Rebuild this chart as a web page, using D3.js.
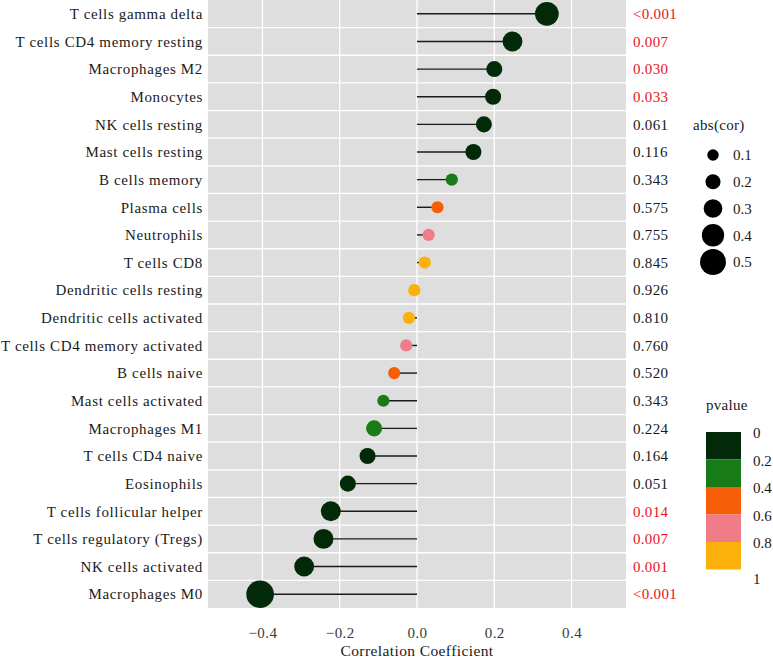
<!DOCTYPE html>
<html>
<head>
<meta charset="utf-8">
<script src="https://cdn.jsdelivr.net/npm/d3@7"></script>
<style>
  html, body { margin: 0; padding: 0; background: #fff; }
  svg { display: block; }
  svg text { font-family: "Liberation Serif", "Times New Roman", serif !important; }
</style>
</head>
<body>
<svg id="chart" width="773" height="660"></svg>
<script>
const cells = ["T cells gamma delta", "T cells CD4 memory resting", "Macrophages M2", "Monocytes",
  "NK cells resting", "Mast cells resting", "B cells memory", "Plasma cells", "Neutrophils", "T cells CD8",
  "Dendritic cells resting", "Dendritic cells activated", "T cells CD4 memory activated", "B cells naive",
  "Mast cells activated", "Macrophages M1", "T cells CD4 naive", "Eosinophils", "T cells follicular helper",
  "T cells regulatory (Tregs)", "NK cells activated", "Macrophages M0"];
const corValues = [0.336, 0.247, 0.200, 0.197, 0.173, 0.146, 0.090, 0.053, 0.030, 0.020,
  -0.007, -0.021, -0.028, -0.059, -0.087, -0.111, -0.128, -0.179, -0.223, -0.242, -0.292, -0.406];
const pValues = [0.0005, 0.007, 0.030, 0.033, 0.061, 0.116, 0.343, 0.575, 0.755, 0.845,
  0.926, 0.810, 0.760, 0.520, 0.343, 0.224, 0.164, 0.051, 0.014, 0.007, 0.001, 0.0005];
const pLabels = ["<0.001", "0.007", "0.030", "0.033", "0.061", "0.116", "0.343", "0.575", "0.755", "0.845",
  "0.926", "0.810", "0.760", "0.520", "0.343", "0.224", "0.164", "0.051", "0.014", "0.007", "0.001", "<0.001"];
const xTicks = [-0.4, -0.2, 0.0, 0.2, 0.4];
const sizeBreaks = [0.1, 0.2, 0.3, 0.4, 0.5];
const pBreaks = [0, 0.2, 0.4, 0.6, 0.8, 1];
const pColors = ["#022a09", "#177c17", "#f55d07", "#ef7c87", "#fbb00b"];

const data = cells.map((c, i) => ({ cell: c, cor: corValues[i], p: pValues[i], pLabel: pLabels[i] }));

const svg = d3.select("#chart");
const panel = { left: 208, right: 626, top: 0, bottom: 608 };

const x = d3.scaleLinear().domain([-0.5408, 0.5408]).range([panel.left, panel.right]);
const y = d3.scaleBand().domain(cells).range([panel.top, panel.bottom]).padding(0);
const color = d3.scaleThreshold().domain([0.2, 0.4, 0.6, 0.8]).range(pColors);
const sizeLin = d3.scaleLinear().domain([0.1, 0.5]).range([6.1, 13.8]);
const radius = v => sizeLin(Math.max(1, Math.ceil(Math.abs(v) * 10 - 1e-9)) / 10);

// panel background
svg.append("rect")
  .attr("x", panel.left).attr("y", panel.top)
  .attr("width", panel.right - panel.left).attr("height", panel.bottom - panel.top)
  .attr("fill", "#dddedd");

// vertical gridlines
svg.append("g").selectAll("line").data(xTicks).join("line")
  .attr("x1", d => x(d)).attr("x2", d => x(d))
  .attr("y1", panel.top).attr("y2", panel.bottom)
  .attr("stroke", "#fff").attr("stroke-width", 1.3);

// horizontal separators between rows
svg.append("g").selectAll("line").data(cells.slice(1)).join("line")
  .attr("x1", panel.left).attr("x2", panel.right)
  .attr("y1", d => y(d)).attr("y2", d => y(d))
  .attr("stroke", "#fff").attr("stroke-width", 1.3);

const cy = d => y(d.cell) + y.bandwidth() / 2;

// stems
svg.append("g").selectAll("line").data(data).join("line")
  .attr("x1", x(0)).attr("x2", d => x(d.cor))
  .attr("y1", cy).attr("y2", cy)
  .attr("stroke", "#1a1a1a").attr("stroke-width", 1.4);

// dots
svg.append("g").selectAll("circle").data(data).join("circle")
  .attr("cx", d => x(d.cor)).attr("cy", cy)
  .attr("r", d => radius(d.cor))
  .attr("fill", d => color(d.p));

// y labels
svg.append("g").selectAll("text").data(data).join("text")
  .attr("x", 203).attr("y", cy).attr("dy", "0.35em")
  .attr("text-anchor", "end")
  .attr("font-size", 15).attr("letter-spacing", 0.65)
  .attr("fill", "#1a1a1a")
  .text(d => d.cell);

// p-value labels
svg.append("g").selectAll("text").data(data).join("text")
  .attr("x", 633).attr("y", cy).attr("dy", "0.35em")
  .attr("font-size", 15).attr("letter-spacing", 0.3)
  .attr("fill", d => d.p < 0.05 ? "#e8131b" : "#1a1a1a")
  .text(d => d.pLabel);

// x axis
const xAxis = d3.axisBottom(x).tickValues(xTicks)
  .tickFormat(d => d3.format(".1f")(d).replace("-", "\u2212"))
  .tickSize(0).tickPadding(0);
const gx = svg.append("g").attr("transform", `translate(0,${panel.bottom})`).call(xAxis);
gx.select(".domain").remove();
gx.selectAll("text")
  .attr("y", 25).attr("dy", "0.35em")
  .attr("font-size", 15).attr("letter-spacing", 0.4).attr("fill", "#3a3a3a");

svg.append("text")
  .attr("x", (panel.left + panel.right) / 2).attr("y", 651)
  .attr("text-anchor", "middle").attr("dy", "0.35em")
  .attr("font-size", 15.5).attr("letter-spacing", 0.4).attr("fill", "#1a1a1a")
  .text("Correlation Coefficient");

// size legend
const sl = svg.append("g");
sl.append("text").attr("x", 693).attr("y", 125).attr("dy", "0.35em")
  .attr("font-size", 15).attr("letter-spacing", 0.3).attr("fill", "#1a1a1a").text("abs(cor)");
const sizeY = d3.scalePoint().domain(sizeBreaks).range([155, 262]);
sl.selectAll("circle").data(sizeBreaks).join("circle")
  .attr("cx", 713).attr("cy", d => sizeY(d)).attr("r", d => radius(d) * 0.94).attr("fill", "#000");
sl.selectAll("text.lab").data(sizeBreaks).join("text").attr("class", "lab")
  .attr("x", 733).attr("y", d => sizeY(d)).attr("dy", "0.35em")
  .attr("font-size", 15).attr("fill", "#1a1a1a").text(d => d.toFixed(1));

// pvalue legend
const pl = svg.append("g");
pl.append("text").attr("x", 706).attr("y", 405).attr("dy", "0.35em")
  .attr("font-size", 15).attr("letter-spacing", 0.3).attr("fill", "#1a1a1a").text("pvalue");
const pY = d3.scaleLinear().domain([0, 1]).range([432, 569.5]);
pl.selectAll("rect").data(pColors).join("rect")
  .attr("x", 706).attr("width", 35)
  .attr("y", (d, i) => pY(pBreaks[i]))
  .attr("height", (d, i) => pY(pBreaks[i + 1]) - pY(pBreaks[i]))
  .attr("fill", d => d);
pl.selectAll("text.lab").data(pBreaks).join("text").attr("class", "lab")
  .attr("x", 753).attr("y", d => pY(d) + (d === 1 ? 9 : 1)).attr("dy", "0.35em")
  .attr("font-size", 15).attr("fill", "#1a1a1a").text(d => d3.format("")(d));
</script>
</body>
</html>
